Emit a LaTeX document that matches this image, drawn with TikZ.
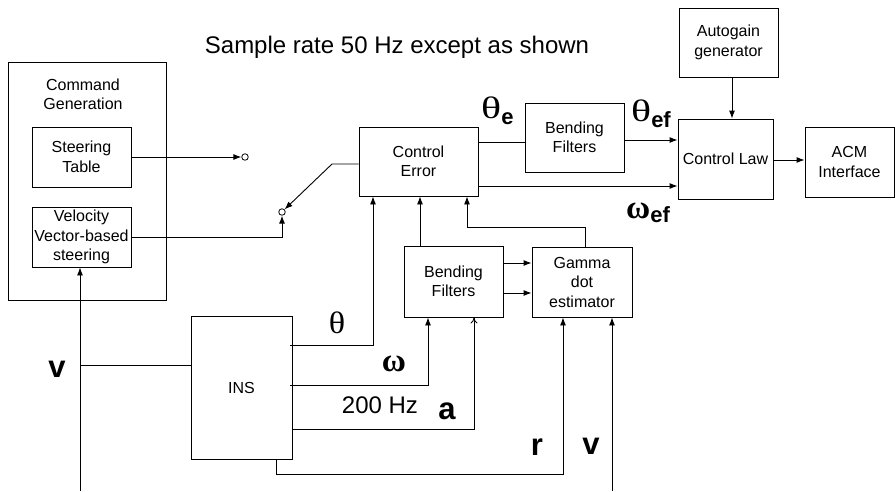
\documentclass[tikz,border=0pt]{standalone}
\usepackage{fontspec}
\usepackage{graphicx}
\setmainfont{Liberation Sans}
\newfontfamily\grk{Liberation Serif}
\usetikzlibrary{arrows.meta}
\newcommand{\wth}[1]{\scalebox{#1}[1]{\grk θ}}
\begin{document}
\begin{tikzpicture}[x=1pt,y=-1pt,
  box/.style={draw, line width=0.9pt, inner sep=0pt, align=center, font=\fontsize{16}{19.5}\selectfont},
  txt/.style={inner sep=0pt, align=center, font=\fontsize{16}{19}\selectfont},
  conn/.style={line width=0.9pt},
  arr/.style={conn, -{Latex[length=8pt,width=6pt]}},
  oarr/.style={conn, -{To[length=6pt,width=7pt]}},
  sw/.style={draw, circle, line width=0.8pt, minimum size=6.5pt, inner sep=0pt},
  big/.style={inner sep=0pt, font=\fontsize{24}{28}\selectfont},
  lbl/.style={inner sep=0pt, font=\fontsize{31}{34}\selectfont\bfseries},
  gk/.style={inner sep=0pt, font=\fontsize{31}{34}\selectfont\grk},
  glab/.style={inner sep=0pt, anchor=base west},
]
\useasboundingbox (0,0) rectangle (895,491);
% boxes
\node[box, minimum width=158pt, minimum height=238pt] (cmd) at (87,181) {};
\node[txt] (cmdt) at (83,94) {Command\\Generation};
\node[box, minimum width=99pt, minimum height=60pt] (steer) at (81.5,157) {Steering\\Table};
\node[box, minimum width=99pt, minimum height=60pt] (vel) at (81.5,237) {Velocity\\Vector-based\\steering};
\node[sw] (c1) at (245,157) {};
\node[sw] (c2) at (282,212) {};
\node[box, minimum width=119pt, minimum height=69pt] (cerr) at (418.5,161.5) {Control\\Error};
\node[box, minimum width=99pt, minimum height=69pt] (bf1) at (574.5,137.5) {Bending\\Filters};
\node[box, minimum width=95pt, minimum height=80pt] (claw) at (725.5,159) {Control Law};
\node[box, minimum width=99pt, minimum height=69pt] (auto) at (728.5,42.5) {Autogain\\generator};
\node[box, minimum width=89pt, minimum height=70pt] (acm) at (849.5,162) {ACM\\Interface};
\node[box, minimum width=99pt, minimum height=71pt] (bf2) at (453.5,281.5) {Bending\\Filters};
\node[box, minimum width=100pt, minimum height=70pt] (gam) at (582,282) {Gamma\\dot\\estimator};
\node[box, minimum width=101pt, minimum height=143pt] (ins) at (241.5,387.5) {INS};
% free ends
\coordinate (vin1) at (80,491);
\coordinate (vin2) at (612,491);
\coordinate (swk) at (332,164);
% connectors
\draw[arr] (steer.east) -- (c1.west);
\draw[arr] (vel.east) -- (282,237) -- (c2.south);
\draw[arr] (cerr.west |- swk) -- (swk) -- (c2.north east);
\draw[conn] (cerr.east |- 0,142) -- (bf1.west |- 0,142);
\draw[arr] (bf1.east |- 0,140) -- (claw.west |- 0,140);
\draw[arr] (cerr.east |- 0,186) -- (claw.west |- 0,186);
\draw[arr] (auto.south -| 732,0) -- (claw.north -| 732,0);
\draw[arr] (claw.east |- 0,160) -- (acm.west |- 0,160);
\draw[arr] (bf2.north -| 420,0) -- (cerr.south -| 420,0);
\draw[arr] (gam.north -| 585,0) -- (585,227) -- (467,227) -- (cerr.south -| 467,0);
\draw[arr] (bf2.east |- 0,263) -- (gam.west |- 0,263);
\draw[arr] (bf2.east |- 0,293) -- (gam.west |- 0,293);
\draw[arr] (290,345) -- (373,345) -- (cerr.south -| 373,0);
\draw[arr] (290,385) -- (428,385) -- (bf2.south -| 428,0);
\draw[oarr] (ins.east |- 0,429) -- (474,429) -- (bf2.south -| 474,0);
\draw[arr] (ins.south -| 276,0) -- (276,474) -- (563,474) -- (gam.south -| 563,0);
\draw[arr] (vin1) -- (vel.south -| vin1);
\draw[conn] (80,365) -- (ins.west |- 0,365);
\draw[arr] (vin2) -- (gam.south -| vin2);
% labels
\node[big] (title) at (397,47) {Sample rate 50 Hz except as shown};
\node[big] (hz) at (380,405) {200 Hz};
\node[glab] (the) at (481,118) {{\fontsize{31}{34}\selectfont\wth{1.35}}\raisebox{-6pt}{\fontsize{22}{22}\selectfont\bfseries e}};
\node[glab] (thef) at (631,121) {{\fontsize{31}{34}\selectfont\wth{1.35}}\raisebox{-6pt}{\fontsize{22}{22}\selectfont\bfseries ef}};
\node[glab] (omef) at (626,218) {{\fontsize{33}{34}\selectfont\grk\bfseries ω}\raisebox{-4pt}{\fontsize{22}{22}\selectfont\bfseries ef}};
\node[gk] (th) at (337,323) {\wth{1.1}};
\node[gk, font=\fontsize{33}{34}\selectfont\grk\bfseries] (om) at (394,364) {ω};
\node[lbl] (la) at (447,411) {a};
\node[lbl] (lr) at (537,447) {r};
\node[lbl] (lv1) at (57,369) {v};
\node[lbl] (lv2) at (591,446) {v};
\end{tikzpicture}
\end{document}
